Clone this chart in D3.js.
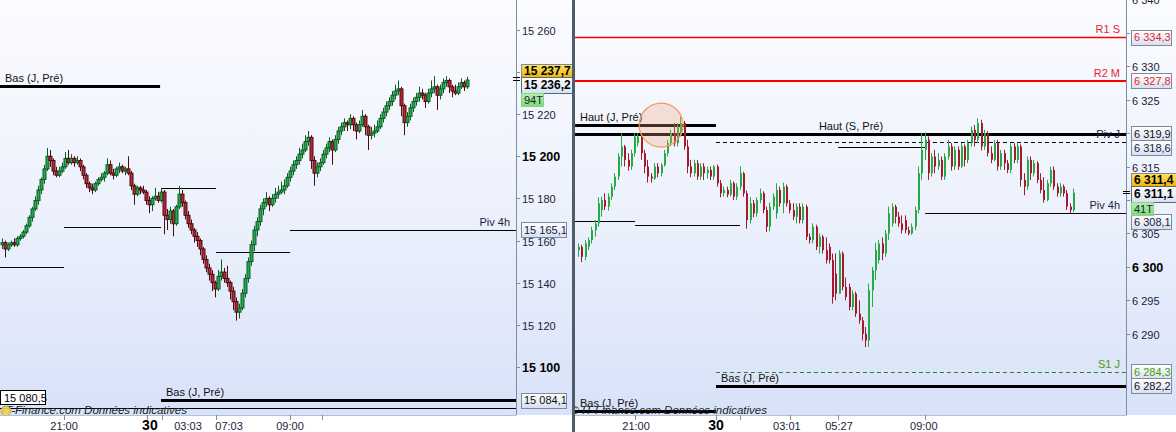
<!DOCTYPE html>
<html>
<head>
<meta charset="utf-8">
<script src="https://cdn.jsdelivr.net/npm/d3@7"></script>
<style>
  body { margin: 0; background: #fff; }
  svg { display: block; font-family: "Liberation Sans", Arial, sans-serif; }
</style>
</head>
<body>
<svg id="chart" width="1176" height="432"></svg>
<script>
// ---------------- Data ----------------
// left panel candles: [open, high, low, close]
var leftCandles = [
  [15158,15161,15156,15159],[15159,15160,15152,15156],[15156,15159,15155,15158],[15158,15160,15157,15159],
  [15159,15161,15157,15158],[15158,15162,15157,15161],[15161,15163,15160,15162],[15162,15165,15161,15164],
  [15164,15168,15163,15167],[15167,15172,15166,15171],[15171,15176,15169,15175],[15175,15181,15174,15179],
  [15179,15186,15177,15184],[15184,15190,15182,15189],[15189,15196,15187,15194],[15194,15204,15193,15200],
  [15200,15203,15195,15198],[15198,15199,15191,15193],[15193,15195,15190,15191],[15191,15195,15190,15193],
  [15193,15197,15192,15195],[15195,15202,15194,15199],[15199,15203,15196,15197],[15197,15201,15196,15199],
  [15199,15200,15195,15197],[15197,15200,15196,15198],[15198,15199,15193,15195],[15195,15196,15189,15191],
  [15191,15192,15185,15187],[15187,15188,15183,15185],[15185,15187,15182,15184],[15184,15188,15183,15187],
  [15187,15190,15186,15189],[15189,15192,15188,15190],[15190,15193,15188,15192],[15192,15199,15191,15196],
  [15196,15198,15191,15192],[15192,15194,15189,15191],[15191,15195,15190,15194],[15194,15197,15192,15195],
  [15195,15196,15192,15193],[15193,15195,15191,15194],[15194,15200,15191,15192],[15192,15193,15184,15186],
  [15186,15187,15177,15182],[15182,15186,15181,15185],[15185,15186,15182,15184],[15184,15186,15182,15183],
  [15183,15184,15177,15179],[15179,15181,15173,15177],[15177,15181,15174,15180],[15180,15185,15179,15181],
  [15181,15183,15178,15179],[15179,15185,15178,15183],[15183,15184,15163,15172],[15172,15175,15165,15170],
  [15170,15176,15168,15174],[15174,15175,15162,15168],[15168,15177,15167,15176],[15176,15186,15175,15182],
  [15182,15184,15176,15178],[15178,15179,15170,15172],[15172,15174,15166,15168],[15168,15170,15163,15165],
  [15165,15166,15159,15162],[15162,15164,15157,15160],[15160,15161,15153,15156],[15156,15157,15149,15151],
  [15151,15153,15145,15147],[15147,15149,15141,15144],[15144,15146,15136,15140],[15140,15141,15133,15137],
  [15137,15146,15136,15143],[15143,15151,15141,15145],[15145,15147,15140,15142],[15142,15148,15138,15140],
  [15140,15141,15132,15136],[15136,15138,15127,15131],[15131,15133,15122,15126],[15126,15130,15123,15128],
  [15128,15137,15127,15135],[15135,15144,15133,15142],[15142,15152,15140,15150],[15150,15160,15148,15158],
  [15158,15167,15155,15165],[15165,15171,15162,15169],[15169,15177,15167,15175],[15175,15180,15172,15178],
  [15178,15183,15176,15180],[15180,15181,15174,15177],[15177,15182,15176,15180],[15180,15185,15178,15182],
  [15182,15186,15180,15183],[15183,15188,15182,15184],[15184,15189,15182,15186],[15186,15192,15185,15190],
  [15190,15195,15188,15193],[15193,15198,15191,15196],[15196,15200,15194,15198],[15198,15204,15196,15201],
  [15201,15206,15199,15203],[15203,15210,15202,15207],[15207,15212,15205,15209],[15209,15210,15194,15198],
  [15198,15200,15186,15192],[15192,15197,15190,15195],[15195,15199,15193,15197],[15197,15203,15196,15201],
  [15201,15206,15199,15204],[15204,15209,15202,15207],[15207,15208,15196,15203],[15203,15210,15202,15208],
  [15208,15214,15206,15212],[15212,15216,15210,15214],[15214,15218,15212,15216],[15216,15217,15212,15215],
  [15215,15220,15213,15218],[15218,15219,15212,15215],[15215,15216,15208,15212],[15212,15217,15211,15215],
  [15215,15222,15214,15219],[15219,15220,15210,15214],[15214,15215,15203,15210],[15210,15214,15208,15211],
  [15211,15215,15209,15212],[15212,15217,15211,15214],[15214,15220,15213,15218],[15218,15223,15216,15221],
  [15221,15226,15219,15224],[15224,15228,15222,15226],[15226,15231,15224,15229],[15229,15234,15227,15231],
  [15231,15236,15229,15232],[15232,15233,15219,15224],[15224,15225,15210,15216],[15216,15221,15214,15219],
  [15219,15225,15217,15223],[15223,15228,15221,15226],[15226,15230,15224,15228],[15228,15233,15226,15230],
  [15230,15232,15227,15229],[15229,15230,15223,15226],[15226,15232,15225,15230],[15230,15236,15228,15232],
  [15232,15238,15230,15233],[15233,15234,15222,15229],[15229,15234,15227,15232],[15232,15237,15230,15235],
  [15235,15238,15233,15236],[15236,15237,15230,15233],[15233,15234,15228,15231],[15231,15234,15229,15230],
  [15230,15235,15229,15233],[15233,15237,15232,15235],[15235,15236,15231,15233],[15233,15237.7,15232,15236.2]
];

// right panel bars: [open, high, low, close]
var rightBars = [
  [6302.5,6303.5,6301.5,6303],[6303,6303.3,6300.7,6301.5],[6301.5,6304,6301,6303.5],[6303,6304.4,6302.5,6304],
  [6304,6306,6303.5,6305.5],[6305.5,6307,6304.5,6306.5],[6306.5,6310.4,6306,6309.5],[6308.5,6310.5,6307.5,6310],
  [6310,6311,6308.5,6309],[6309,6311,6308.4,6310.5],[6310.5,6312.5,6310,6312],[6312,6314,6311.5,6313.5],
  [6313.5,6317,6313,6316.5],[6316.5,6320,6315,6318],[6318,6318.2,6315,6316],[6316,6317,6314.4,6315],
  [6315,6317.5,6314.5,6317],[6317,6320,6316.5,6319.5],[6318.5,6320,6318,6319.5],[6319.5,6320,6316,6317],
  [6317,6317.5,6314,6315],[6315,6316,6312.6,6313.5],[6313.5,6314,6312.6,6313.2],[6313.2,6315.5,6313,6315],
  [6315,6315.5,6313.4,6314],[6314,6315.5,6313.5,6315.2],[6315.2,6317.5,6315,6317],[6317,6319,6316.5,6318.5],
  [6318.5,6320.5,6318,6320],[6320,6321.5,6318,6318.5],[6318.5,6321.5,6318,6321],[6320,6322.4,6319.5,6321.5],
  [6321.5,6321.8,6317.5,6318],[6318,6319,6314,6315],[6315,6316,6313.4,6314],[6314,6316,6313.5,6315.5],
  [6315.5,6316,6313,6313.5],[6313.5,6315.5,6313,6315],[6315,6315.5,6313,6314],[6314,6315,6313.2,6314.5],
  [6314.5,6315,6313,6313.5],[6313.5,6315.2,6313,6315],[6315,6315.3,6312,6312.5],[6312.5,6313,6310.4,6311],
  [6311,6312,6310.5,6311.5],[6311.5,6312,6310.4,6310.8],[6310.8,6313,6310.5,6312.5],[6312.5,6312.8,6310,6310.5],
  [6310.5,6312.5,6310,6312],[6312,6315,6311.5,6314],[6314,6314.2,6310.5,6311],[6311,6311.4,6305.7,6307],
  [6307,6310.4,6306.5,6309.5],[6309.5,6310,6307.4,6308],[6308,6310.4,6307.5,6310],[6310,6311.7,6309.5,6311],
  [6311,6311.3,6308,6308.5],[6308.5,6309,6305.2,6306],[6306,6309.6,6305.3,6309],[6309,6311,6308.5,6310.5],
  [6308,6312.5,6307.2,6311.5],[6311.5,6312,6309,6309.5],[6309.5,6312.6,6308,6312],[6312,6312.3,6309,6309.5],
  [6309.5,6310,6308,6308.5],[6308.5,6309.5,6307,6307.5],[6307.5,6309.5,6306.5,6309],[6309,6309.5,6306.5,6307],
  [6307,6309.5,6306.5,6309],[6309,6309.3,6304,6304.5],[6304.5,6305,6303.5,6304],[6304,6306.5,6303.5,6306],
  [6306,6306.3,6302.5,6303],[6303,6305,6302,6304.5],[6304.5,6304.8,6302,6302.5],[6302.5,6304.4,6300.5,6301],
  [6303,6303.5,6300.5,6301],[6301,6302,6294.5,6295.5],[6299,6302,6295,6296],[6296,6302.5,6296,6302],
  [6302,6302.3,6296.5,6297],[6297,6298.4,6295,6295.5],[6297,6297.5,6293.5,6294],[6294,6296.5,6293.5,6296],
  [6296,6296.3,6292.5,6293],[6293,6295,6291.5,6292],[6292,6292.5,6289,6290],[6290,6291,6288,6289],
  [6289,6297.5,6288,6296.5],[6296.5,6300,6294,6299.5],[6299.5,6303.6,6298,6302.5],[6301,6304,6300.5,6303.5],
  [6303.5,6304.4,6301,6302],[6302,6305.5,6301.5,6305],[6305,6309,6304,6308],[6306.5,6309.5,6306,6309],
  [6309,6309.3,6306.5,6307.5],[6307.5,6308.2,6306,6306.5],[6306.5,6307.7,6305,6305.5],[6307,6307.7,6305,6305.5],
  [6305.5,6306,6304.7,6305],[6305,6306.5,6304.8,6306],[6306,6309,6305.5,6308.5],[6308.5,6315,6308,6314],
  [6314,6320,6313,6317.5],[6317.5,6320.1,6316,6319],[6319,6319.5,6313,6314],[6314,6317,6313.5,6316.5],
  [6316.5,6317.5,6314,6315],[6315,6317,6314.5,6316],[6316,6316.5,6313,6313.5],[6313.5,6317,6313,6316.5],
  [6316.5,6319,6316,6318],[6318,6318.5,6314.4,6315],[6315,6318,6314.5,6317.5],[6317.5,6318,6314.5,6315],
  [6315,6318.5,6314.8,6318],[6318,6318.3,6315,6316],[6316,6319,6315.5,6318.5],[6318.5,6321,6318,6320.5],
  [6320.5,6321.2,6318,6319],[6319,6322.2,6318.5,6321.5],[6321.5,6322,6317.4,6318],[6318,6320.5,6317.5,6320],
  [6320,6320.3,6316.5,6317],[6317,6318,6315.5,6316],[6316,6319,6315.8,6318.5],[6318.5,6319,6314.4,6315],
  [6315,6317.5,6314.5,6317],[6317,6317.5,6314.5,6315.5],[6315.5,6316,6314,6314.5],[6314.5,6318.5,6314,6318],
  [6318,6318.5,6315.5,6316],[6316,6318.6,6315.5,6318],[6318,6318.3,6312,6313],[6313,6314,6310.7,6312],
  [6312,6316.5,6311.5,6316],[6316,6316.5,6313,6314],[6314,6316,6313.5,6315.5],[6315.5,6315.8,6312.5,6313],
  [6313,6314,6311,6311.5],[6311.5,6313.4,6309.6,6310],[6310,6313,6309.8,6312.5],[6312.5,6315,6312,6314.5],
  [6314.5,6315,6311.5,6312],[6312,6312.5,6310.5,6311],[6311,6312.5,6310.5,6312],[6312,6312.3,6310.5,6311],
  [6311,6311.5,6308.5,6309],[6309,6309.5,6308,6308.5],[6308.5,6311.7,6308.2,6311.1]
];

// price axis ticks
var leftTicks = [15100, 15120, 15140, 15160, 15180, 15200, 15220, 15240, 15260];
var rightTicks = [6290, 6295, 6300, 6305, 6310, 6315, 6320, 6325, 6330, 6335, 6340];
var leftBoldTicks = [15100, 15200];
var rightBoldTicks = [6300];

// time axis (positions given in candle index units)
var leftTimeLabels = [
  {i: 20.7, label: "21:00"}, {i: 49.3, label: "30", day: true},
  {i: 62, label: "03:03"}, {i: 75.7, label: "07:03"}, {i: 96, label: "09:00"}
];
var leftTimeTicks = [20.7, 48.3, 53.3, 71.3, 96, 106.7];
var rightTimeLabels = [
  {i: 17.6, label: "21:00"}, {i: 41.8, label: "30", day: true},
  {i: 63.3, label: "03:01"}, {i: 79.1, label: "05:27"}, {i: 104.8, label: "09:00"}
];
var rightTimeTicks = [17.3, 41.8, 49.1, 64.2, 78.8, 105.2];

// horizontal levels (to: null = runs to the price axis)
var leftLevels = [
  {name: "Bas (J, Pré)", value: 15233.4, from: -1, to: 52.7, kind: "thick"},
  {name: "", value: 15185.0, from: 53, to: 71.3, kind: "thin"},
  {name: "", value: 15166.5, from: 20.7, to: 53, kind: "thin"},
  {name: "", value: 15147.5, from: -1, to: 20.7, kind: "thin"},
  {name: "", value: 15154.6, from: 71.3, to: 96, kind: "thin"},
  {name: "Piv 4h", value: 15165.1, from: 96, to: null, kind: "pivot"},
  {name: "Bas (J, Pré)", value: 15084.1, from: 53, to: null, kind: "thick"},
  {name: "", value: 15080.5, from: -1, to: null, kind: "close"}
];
var rightLevels = [
  {name: "R1 S", value: 6334.3, from: -1, to: null, kind: "r1"},
  {name: "R2 M", value: 6327.8, from: -1, to: null, kind: "r2"},
  {name: "Haut (J, Pré)", value: 6321.2, from: -1, to: 41.8, kind: "thick"},
  {name: "Haut (S, Pré)", value: 6319.9, from: -1, to: null, kind: "thick", labelAt: 73},
  {name: "Piv J", value: 6318.6, from: 41.8, to: null, kind: "pivotDash"},
  {name: "", value: 6317.9, from: 78.8, to: 105.2, kind: "thin"},
  {name: "", value: 6306.9, from: -1, to: 17.3, kind: "thin"},
  {name: "", value: 6306.2, from: 17.3, to: 49.1, kind: "thin"},
  {name: "Piv 4h", value: 6308.1, from: 105.2, to: null, kind: "pivot"},
  {name: "S1 J", value: 6284.3, from: 41.8, to: null, kind: "s1"},
  {name: "Bas (J, Pré)", value: 6282.2, from: 41.8, to: null, kind: "thick"},
  {name: "Bas (J, Pré)", value: 6278.4, from: -1, to: 41.8, kind: "thick"}
];

// last quote block on each price axis
var leftQuote = {mark: 15237.7, last: 15236.2, count: "94T"};
var rightQuote = {mark: 6311.4, last: 6311.1, count: "41T"};

// highlighted zone (right panel)
var rightMarker = {i: 25.2, value: 6321.2};

var watermark = ["© IT-Finance.com ", "Données indicatives"];

// ---------------- Layout / styles ----------------
var svg = d3.select("#chart");
var W = 1176, H = 432, plotH = 415;
var leftPanel = {x0: 0, x1: 516, dom: [15078.6, 15274.2], xr: [2, 467], boxW: 45, quoteW: 51, stackShift: 4.6};
var rightPanel = {x0: 575, x1: 1126, dom: [6278.3, 6339.9], xr: [578, 1073], boxW: 40, quoteW: 46, stackShift: 1.2};

var inkText = "#1c1c3c";
var levelStyle = {
  thick:     {stroke: "#000", width: 3, dash: null, anchor: "start", color: "#111"},
  thin:      {stroke: "#000", width: 1, dash: null, anchor: null},
  close:     {stroke: "#000", width: 1, dash: null, anchor: null},
  pivot:     {stroke: "#000", width: 1.2, dash: null, anchor: "end", color: inkText},
  pivotDash: {stroke: "#000", width: 1, dash: "4,3", anchor: "end", color: inkText},
  r1:        {stroke: "#ff0000", width: 1.5, dash: null, anchor: "end", color: "#e8262a"},
  r2:        {stroke: "#ff0000", width: 2, dash: null, anchor: "end", color: "#e8262a"},
  s1:        {stroke: "#1f8a1f", width: 1, dash: "4,3", anchor: "end", color: "#4a9a10"}
};

var loc = d3.formatLocale({decimal: ",", thousands: " ", grouping: [3], currency: ["", ""]});
var fmtPrice = loc.format(",.1f");
var fmtTick = loc.format(",d");

// ---------------- Defs ----------------
var defs = svg.append("defs");
function vGrad(id, stops) {
  var g = defs.append("linearGradient").attr("id", id)
    .attr("x1", 0).attr("y1", 0).attr("x2", 0).attr("y2", 1);
  stops.forEach(function(s) { g.append("stop").attr("offset", s[0]).attr("stop-color", s[1]); });
}
vGrad("bgGrad", [[0, "#fbfcff"], [0.5, "#ecf1fc"], [1, "#d8e2f8"]]);
vGrad("boxGrad", [[0, "#ffffff"], [1, "#d6dff2"]]);
vGrad("goldGrad", [[0, "#ffe36a"], [1, "#f0b400"]]);
vGrad("greenGrad", [[0, "#b4f0ac"], [1, "#7fd878"]]);

[leftPanel, rightPanel].forEach(function(p, k) {
  defs.append("clipPath").attr("id", "clip" + k)
    .append("rect").attr("x", p.x0).attr("y", 0).attr("width", p.x1 - p.x0).attr("height", plotH);
});

// background
svg.append("rect").attr("width", W).attr("height", H).attr("fill", "#fff");
svg.append("rect").attr("width", W).attr("height", plotH).attr("fill", "url(#bgGrad)");

// ---------------- Panel drawing ----------------
function drawPanel(p, k, candles, levels, ticks, boldTicks, timeLabels, timeTicks, quote, isLeft) {
  var x = d3.scaleLinear().domain([0, candles.length - 1]).range(p.xr);
  var y = d3.scaleLinear().domain(p.dom).range([412, 0]);
  var xAt = function(i) { return i == null ? p.x1 : x(i); };

  var plot = svg.append("g").attr("clip-path", "url(#clip" + k + ")");

  // level lines
  levels.forEach(function(d) {
    var st = levelStyle[d.kind];
    var yy = Math.round(y(d.value)) + (st.width % 2 ? 0.5 : 0);
    plot.append("line")
      .attr("x1", Math.max(p.x0, xAt(d.from))).attr("x2", xAt(d.to))
      .attr("y1", yy).attr("y2", yy)
      .attr("stroke", st.stroke).attr("stroke-width", st.width)
      .attr("stroke-dasharray", st.dash);
  });

  // candles
  var g = plot.append("g").selectAll("g").data(candles).enter().append("g");
  if (isLeft) {
    var up = {fill: "#27a552", line: "#0a5e22"}, dn = {fill: "#b02a3a", line: "#4e0a10"};
    g.append("line")
      .attr("x1", function(d, i) { return Math.round(x(i)) + 0.5; })
      .attr("x2", function(d, i) { return Math.round(x(i)) + 0.5; })
      .attr("y1", function(d) { return y(d[1]); })
      .attr("y2", function(d) { return y(d[2]); })
      .attr("stroke", function(d) { return d[3] >= d[0] ? up.line : dn.line; });
    g.append("rect")
      .attr("x", function(d, i) { return Math.round(x(i)) - 1; })
      .attr("y", function(d) { return y(Math.max(d[0], d[3])); })
      .attr("width", 3)
      .attr("height", function(d) { return Math.max(1, Math.abs(y(d[0]) - y(d[3]))); })
      .attr("fill", function(d) { return d[3] >= d[0] ? up.fill : dn.fill; })
      .attr("stroke", function(d) { return d[3] >= d[0] ? up.line : dn.line; })
      .attr("stroke-width", 1);
  } else {
    var upC = "#28a945", dnC = "#a3192e";
    g.append("line")
      .attr("x1", function(d, i) { return Math.round(x(i)) + 0.5; })
      .attr("x2", function(d, i) { return Math.round(x(i)) + 0.5; })
      .attr("y1", function(d) { return y(d[1]); })
      .attr("y2", function(d) { return y(d[2]); })
      .attr("stroke", function(d) { return d[3] >= d[0] ? upC : dnC; });
    g.append("rect")
      .attr("x", function(d, i) { return Math.round(x(i)); })
      .attr("y", function(d) { return y(Math.max(d[0], d[3])); })
      .attr("width", 2)
      .attr("height", function(d) { return Math.max(1, Math.abs(y(d[0]) - y(d[3]))); })
      .attr("fill", function(d) { return d[3] >= d[0] ? upC : dnC; });
  }

  // level labels
  levels.forEach(function(d) {
    var st = levelStyle[d.kind];
    if (!d.name || !st.anchor) return;
    var yy = y(d.value) - 4;
    var t = plot.append("text").attr("y", yy).attr("font-size", 11).attr("fill", st.color).text(d.name);
    if (d.labelAt != null) t.attr("x", x(d.labelAt));
    else if (st.anchor === "start") t.attr("x", Math.max(p.x0, xAt(d.from)) + 5);
    else t.attr("x", p.x1 - 6).attr("text-anchor", "end");
  });

  // watermark
  var wm = plot.append("text").attr("x", (isLeft ? 187 : 767)).attr("y", 414)
    .attr("text-anchor", "end").attr("font-size", 11.5).attr("font-style", "italic").attr("fill", "#222");
  wm.append("tspan").text(watermark[0]);
  wm.append("tspan").text(watermark[1]);
  if (isLeft) {
    plot.append("circle").attr("cx", 6).attr("cy", 411).attr("r", 5)
      .attr("fill", "#f2d648").attr("stroke", "#b0a060").attr("opacity", 0.9);
    // previous close tag at the left edge
    var pc = levels.filter(function(d) { return d.kind === "close"; })[0];
    var cy = Math.round(y(pc.value)) - 10;
    plot.append("rect").attr("x", 0.5).attr("y", cy - 7.5).attr("width", 45).attr("height", 14)
      .attr("fill", "#fff").attr("stroke", "#000");
    plot.append("text").attr("x", 4).attr("y", cy + 4).attr("font-size", 11).attr("fill", "#000")
      .text(fmtPrice(pc.value));
  }

  // axis line
  svg.append("line").attr("x1", p.x1 + 0.5).attr("x2", p.x1 + 0.5).attr("y1", 0).attr("y2", plotH)
    .attr("stroke", "#7e8e9e");
  svg.append("line").attr("x1", p.x0).attr("x2", p.x1 + 0.5).attr("y1", plotH + 0.5).attr("y2", plotH + 0.5)
    .attr("stroke", "#b4c0cc");

  // axis value boxes (levels that reach the axis) + quote block
  var boxes = [];
  levels.forEach(function(d) {
    if (d.to !== null || d.kind === "close") return;
    boxes.push({cy: y(d.value), h: 15, text: fmtPrice(d.value), color: levelStyle[d.kind].color || inkText});
  });
  var qc = y(quote.last) + p.stackShift;
  var qBoxes = [
    {cy: qc - 14, h: 13, w: p.quoteW, text: fmtPrice(quote.mark), fill: "url(#goldGrad)", bold: true, color: "#000", size: 12},
    {cy: qc, h: 16, w: p.quoteW, text: fmtPrice(quote.last), bold: true, color: "#000", size: 12, stroke: "#5a6a7a"},
    {cy: qc + 15, h: 13, w: 22, text: quote.count, fill: "url(#greenGrad)", color: inkText, stroke: "#8fd08a"}
  ];
  var all = boxes.concat(qBoxes.map(function(b) { b.fixed = true; return b; }))
    .sort(function(a, b) { return a.cy - b.cy; });
  for (var n = 1; n < all.length; n++) {
    var prev = all[n - 1], cur = all[n];
    var minGap = (prev.h + cur.h) / 2 - 1;
    if (!cur.fixed && cur.cy - prev.cy < minGap) cur.cy = prev.cy + minGap;
  }

  // price ticks (labels hidden where a value box covers them)
  var ax = svg.append("g");
  ticks.forEach(function(v) {
    var yy = Math.round(y(v)) + 0.5;
    ax.append("line").attr("x1", p.x1).attr("x2", p.x1 + 4).attr("y1", yy).attr("y2", yy).attr("stroke", "#7e8e9e");
    var covered = all.some(function(b) { return Math.abs(b.cy - yy) < b.h / 2 + 2; });
    if (covered) return;
    var bold = boldTicks.indexOf(v) >= 0;
    ax.append("text").attr("x", p.x1 + 6).attr("y", yy + 4)
      .attr("font-size", bold ? 12.5 : 11).attr("font-weight", bold ? "bold" : null)
      .attr("fill", bold ? "#000" : inkText).text(fmtTick(v));
  });

  var bx = p.x1 + 5;
  boxes.concat(qBoxes).forEach(function(b) {
    var top = Math.round(b.cy - b.h / 2) + 0.5;
    svg.append("rect").attr("x", bx + 0.5).attr("y", top).attr("width", b.w || p.boxW).attr("height", b.h)
      .attr("fill", b.fill || "url(#boxGrad)").attr("stroke", b.stroke || "#7b8b9b");
    svg.append("text").attr("x", bx + 3).attr("y", b.cy + 4)
      .attr("font-size", b.size || 11).attr("font-weight", b.bold ? "bold" : null)
      .attr("fill", b.color).text(b.text);
  });

  // time axis
  timeTicks.forEach(function(i) {
    var xx = Math.round(x(i)) + 0.5;
    svg.append("line").attr("x1", xx).attr("x2", xx).attr("y1", plotH).attr("y2", plotH + 5).attr("stroke", "#7e8e9e");
  });
  timeLabels.forEach(function(d) {
    svg.append("text").attr("x", x(d.i)).attr("y", 430).attr("text-anchor", "middle")
      .attr("font-size", d.day ? 14 : 11).attr("font-weight", d.day ? "bold" : null)
      .attr("fill", d.day ? "#000" : inkText).text(d.label);
  });

  // last-price marks on the axis
  [quote.mark, quote.last].forEach(function(v) {
    var yy = Math.round(y(v)) + 0.5;
    svg.append("line").attr("x1", p.x1 - 3).attr("x2", p.x1 + 4).attr("y1", yy).attr("y2", yy).attr("stroke", "#000");
  });

  return {x: x, y: y, plot: plot};
}

drawPanel(leftPanel, 0, leftCandles, leftLevels, leftTicks, leftBoldTicks,
          leftTimeLabels, leftTimeTicks, leftQuote, true);
var right = drawPanel(rightPanel, 1, rightBars, rightLevels, rightTicks, rightBoldTicks,
          rightTimeLabels, rightTimeTicks, rightQuote, false);

// highlighted zone
right.plot.append("circle")
  .attr("cx", right.x(rightMarker.i)).attr("cy", right.y(rightMarker.value)).attr("r", 22)
  .attr("fill", "rgba(246,160,120,0.28)").attr("stroke", "#f39a5c").attr("stroke-width", 1.2);

// panel separator
svg.append("rect").attr("x", 572).attr("y", 0).attr("width", 3).attr("height", H).attr("fill", "#4f5d6b");
</script>
</body>
</html>
